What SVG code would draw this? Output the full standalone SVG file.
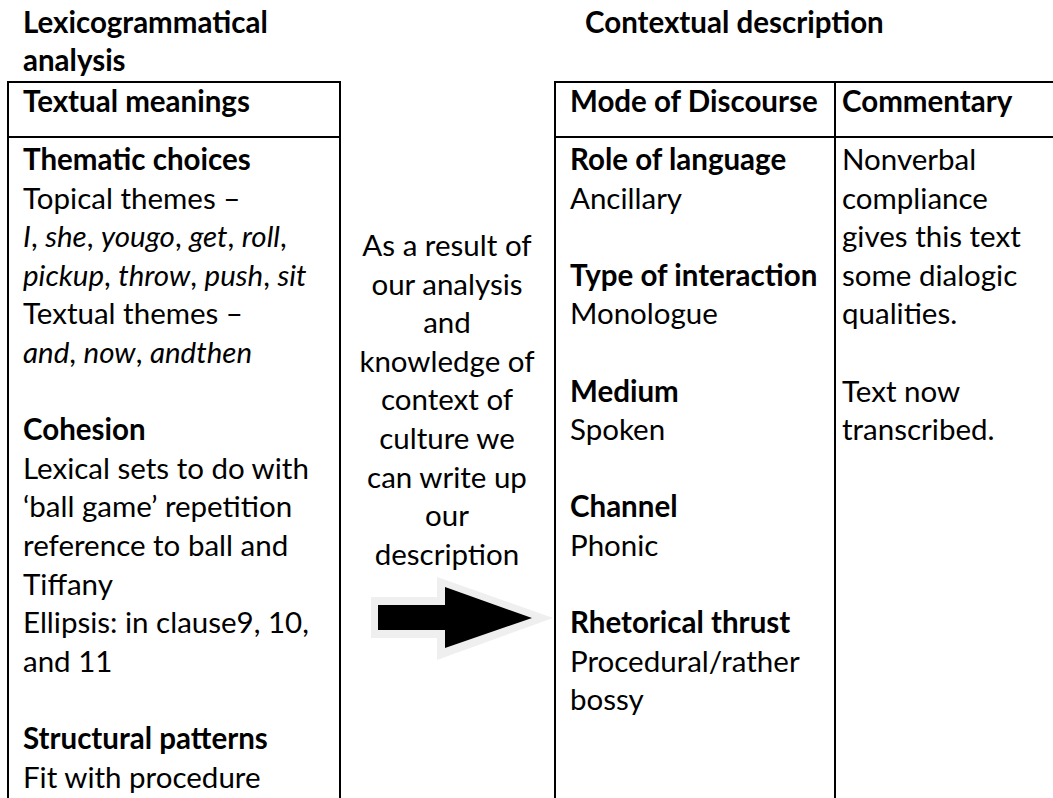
<svg xmlns="http://www.w3.org/2000/svg" width="1053" height="798" viewBox="0 0 1053 798">
<style>
text{font-family:Lato,"Liberation Sans",sans-serif;font-size:29.5px;fill:#000}
.b{font-weight:bold}
.i{font-style:italic}
.mid{text-anchor:middle}
.ln{stroke:#000;stroke-width:2;fill:none}
</style>
<rect width="1053" height="798" fill="#fff"/>
<g id="titles">
<text class="b" x="23" y="33">Lexicogrammatical</text>
<text class="b" x="23" y="71">analysis</text>
<text class="b" x="585" y="33">Contextual description</text>
</g>
<g id="left-table">
<path class="ln" d="M8,82H340M8,137H340M8,81V798M340,81V798"/>
<text class="b" x="23" y="112">Textual meanings</text>
<text class="b" x="23" y="170">Thematic choices</text>
<text x="23" y="208.6">Topical themes –</text>
<text x="23" y="247.2"><tspan class="i">I</tspan>, <tspan class="i">she</tspan>, <tspan class="i">yougo</tspan>, <tspan class="i">get</tspan>, <tspan class="i">roll</tspan>,</text>
<text x="23" y="285.8"><tspan class="i">pickup</tspan>, <tspan class="i">throw</tspan>, <tspan class="i">push</tspan>, <tspan class="i">sit</tspan></text>
<text x="23" y="324.4">Textual themes –</text>
<text x="23" y="363"><tspan class="i">and</tspan>, <tspan class="i">now</tspan>, <tspan class="i">andthen</tspan></text>
<text class="b" x="23" y="440.2">Cohesion</text>
<text x="23" y="478.8">Lexical sets to do with</text>
<text x="23" y="517.4">‘ball game’ repetition</text>
<text x="23" y="556">reference to ball and</text>
<text x="23" y="594.6">Tiffany</text>
<text x="23" y="633.2">Ellipsis: in clause9, 10,</text>
<text x="23" y="671.8">and 11</text>
<text class="b" x="23" y="749">Structural patterns</text>
<text x="23" y="787.6">Fit with procedure</text>
</g>
<g id="middle-note">
<text class="mid" x="447" y="256">As a result of</text>
<text class="mid" x="447" y="294.6">our analysis</text>
<text class="mid" x="447" y="333.2">and</text>
<text class="mid" x="447" y="371.8">knowledge of</text>
<text class="mid" x="447" y="410.4">context of</text>
<text class="mid" x="447" y="449">culture we</text>
<text class="mid" x="447" y="487.6">can write up</text>
<text class="mid" x="447" y="526.2">our</text>
<text class="mid" x="447" y="564.8">description</text>
</g>
<g id="right-table">
<path class="ln" d="M555,82H1053M555,137H1053M555,81V798M835,81V798"/>
<text class="b" x="570" y="112">Mode of Discourse</text>
<text class="b" x="842" y="112">Commentary</text>
<text class="b" x="570" y="170">Role of language</text>
<text x="570" y="208.6">Ancillary</text>
<text class="b" x="570" y="285.8">Type of interaction</text>
<text x="570" y="324.4">Monologue</text>
<text class="b" x="570" y="401.6">Medium</text>
<text x="570" y="440.2">Spoken</text>
<text class="b" x="570" y="517.4">Channel</text>
<text x="570" y="556">Phonic</text>
<text class="b" x="570" y="633.2">Rhetorical thrust</text>
<text x="570" y="671.8">Procedural/rather</text>
<text x="570" y="710.4">bossy</text>
<text x="842" y="170">Nonverbal</text>
<text x="842" y="208.6">compliance</text>
<text x="842" y="247.2">gives this text</text>
<text x="842" y="285.8">some dialogic</text>
<text x="842" y="324.4">qualities.</text>
<text x="842" y="401.6">Text now</text>
<text x="842" y="440.2">transcribed.</text>
</g>
<g id="connectors">
<polygon points="371,597 437,597 437,577 553,618 437,660 437,638 371,638" fill="#efefef"/>
<polygon points="378,605 445,605 445,587 532,618 445,648 445,630 378,630" fill="#000"/>
</g>
</svg>
